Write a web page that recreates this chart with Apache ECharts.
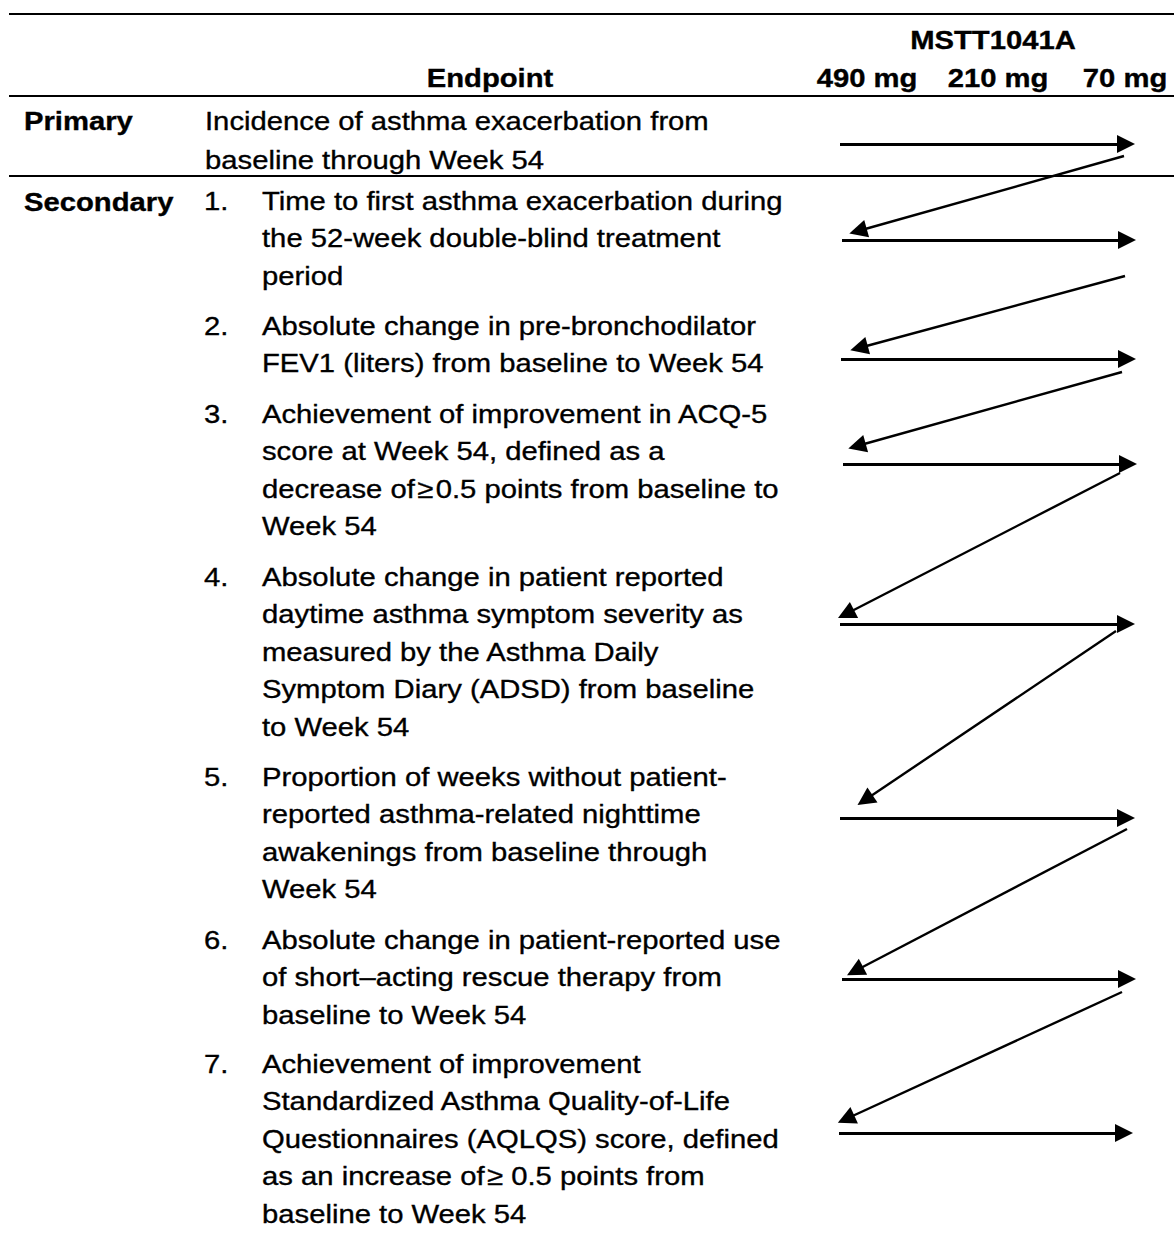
<!DOCTYPE html>
<html><head><meta charset="utf-8">
<script src="https://cdn.jsdelivr.net/npm/echarts@6/dist/echarts.min.js"></script>
<style>html,body{margin:0;padding:0;background:#fff}#c{width:1174px;height:1235px}</style>
</head><body><div id="c"></div>
<script>
// ---- Table content ----
const drugLabel = 'MSTT1041A';
const endpointHeader = 'Endpoint';
const doseLabels = ['490 mg', '210 mg', '70 mg'];
const groupLabels = ['Primary', 'Secondary'];
const endpointNums = ['', '1.', '2.', '3.', '4.', '5.', '6.', '7.'];
const endpointLines = [
  ['Incidence of asthma exacerbation from', 'baseline through Week 54'],
  ['Time to first asthma exacerbation during', 'the 52-week double-blind treatment', 'period'],
  ['Absolute change in pre-bronchodilator', 'FEV1 (liters) from baseline to Week 54'],
  ['Achievement of improvement in ACQ-5', 'score at Week 54, defined as a', 'decrease of\u200a\u2265\u200a0.5 points from baseline to', 'Week 54'],
  ['Absolute change in patient reported', 'daytime asthma symptom severity as', 'measured by the Asthma Daily', 'Symptom Diary (ADSD) from baseline', 'to Week 54'],
  ['Proportion of weeks without patient-', 'reported asthma-related nighttime', 'awakenings from baseline through', 'Week 54'],
  ['Absolute change in patient-reported use', 'of short\u2013acting rescue therapy from', 'baseline to Week 54'],
  ['Achievement of improvement', 'Standardized Asthma Quality-of-Life', 'Questionnaires (AQLQS) score, defined', 'as an increase of\u200a\u2265 0.5 points from', 'baseline to Week 54']
];

// ---- Layout anchors (data units of the full-page axes) ----
const drugLabelPos = [993, 40];
const endpointHeaderPos = [490, 78];
const doseX = [867, 998, 1125];
const doseY = 78;
const groupLabelX = 24;
const groupLabelY = [121, 202];
const numX = 204;
const textX = [205, 262, 262, 262, 262, 262, 262, 262];
const rowFirstLineY = [121, 201, 326, 414, 577, 777, 940, 1064];
const rowLineGap = [39, 37.4, 37.4, 37.4, 37.4, 37.4, 37.4, 37.4];

// Table rules
const ruleY = [14, 96, 176];
const ruleXRange = [9, 1174];

// Horizontal arrows (490 mg -> 70 mg within each endpoint)
const hArrowY = [144, 240, 359, 464, 624, 818, 979, 1133];
const hArrowStartX = [840, 842, 841, 843, 840, 840, 842, 839];
const hArrowEndX = [1126, 1127, 1127, 1128, 1126, 1126, 1127, 1124];

// Diagonal arrows (70 mg of one endpoint -> 490 mg of the next)
const dArrowStart = [[1124, 156], [1125, 276], [1122, 372], [1120, 473], [1116, 631], [1127, 829], [1122, 992]];
const dArrowEnd = [[858, 231], [859, 348], [857, 446], [846, 614], [865, 800], [855, 971], [846, 1119]];

// ---- Build text items ----
const texts = [];
texts.push({x: drugLabelPos[0], y: drugLabelPos[1], text: drugLabel, bold: true, align: 'center'});
texts.push({x: endpointHeaderPos[0], y: endpointHeaderPos[1], text: endpointHeader, bold: true, align: 'center'});
doseLabels.forEach((d, i) => texts.push({x: doseX[i], y: doseY, text: d, bold: true, align: 'center'}));
groupLabels.forEach((g, i) => texts.push({x: groupLabelX, y: groupLabelY[i], text: g, bold: true, align: 'left'}));
endpointLines.forEach((lines, r) => {
  if (endpointNums[r]) texts.push({x: numX, y: rowFirstLineY[r], text: endpointNums[r], bold: false, align: 'left'});
  lines.forEach((ln, k) => texts.push({x: textX[r], y: rowFirstLineY[r] + k * rowLineGap[r], text: ln, bold: false, align: 'left'}));
});

const FONT = '"Liberation Sans", Arial, sans-serif';
const FS = 26;
const SX = 1.125;

const chart = echarts.init(document.getElementById('c'), null, {renderer: 'svg'});
chart.setOption({
  animation: false,
  backgroundColor: '#fff',
  grid: {left: 0, right: 0, top: 0, bottom: 0},
  xAxis: {type: 'value', min: 0, max: 1174, show: false},
  yAxis: {type: 'value', min: 0, max: 1235, inverse: true, show: false},
  series: [
    {
      type: 'lines', coordinateSystem: 'cartesian2d', silent: true,
      symbol: ['none', 'none'],
      lineStyle: {color: '#000', width: 2, opacity: 1},
      data: ruleY.map(y => ({coords: [[ruleXRange[0], y], [ruleXRange[1], y]]}))
    },
    {
      type: 'lines', coordinateSystem: 'cartesian2d', silent: true,
      symbol: ['none', 'triangle'], symbolSize: 18,
      lineStyle: {color: '#000', width: 3, opacity: 1},
      data: hArrowY.map((y, i) => ({coords: [[hArrowStartX[i], y], [hArrowEndX[i], y]]}))
    },
    {
      type: 'lines', coordinateSystem: 'cartesian2d', silent: true,
      symbol: ['none', 'triangle'], symbolSize: 18,
      lineStyle: {color: '#000', width: 2.4, opacity: 1},
      data: dArrowStart.map((s, i) => ({coords: [s, dArrowEnd[i]]}))
    },
    {
      type: 'custom', coordinateSystem: 'cartesian2d', silent: true, clip: false,
      data: texts.map((t, i) => [t.x, t.y, i]),
      encode: {x: 0, y: 1},
      renderItem: (params, api) => {
        const t = texts[api.value(2)];
        const p = api.coord([api.value(0), api.value(1)]);
        return {
          type: 'text', x: p[0], y: p[1], scaleX: SX,
          style: {
            text: t.text, fill: '#000', fontFamily: FONT, fontSize: FS,
            fontWeight: t.bold ? 'bold' : 'normal',
            stroke: '#000', lineWidth: 0.35,
            align: t.align, verticalAlign: 'middle'
          }
        };
      }
    }
  ]
});
</script>
</body></html>
